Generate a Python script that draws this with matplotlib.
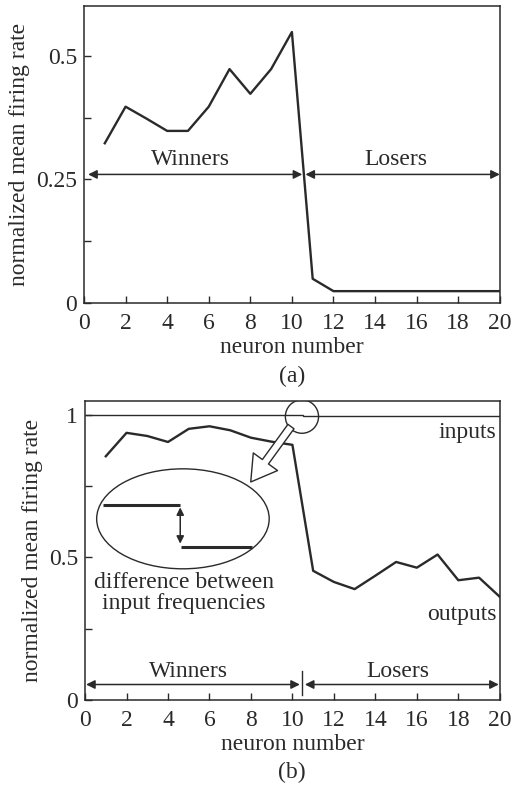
import numpy as np
import matplotlib.pyplot as plt
from matplotlib.patches import Ellipse

plt.rcParams['font.family'] = ['Liberation Serif', 'DejaVu Serif']
plt.rcParams['font.size'] = 17

ink = '#2a2a2a'

# neuron indices
neurons = np.arange(1, 21)

# panel (a): normalized mean firing rate
rate_a = [0.323, 0.397, 0.373, 0.348, 0.348, 0.397, 0.473, 0.423, 0.473, 0.548,
          0.049, 0.024, 0.024, 0.024, 0.024, 0.024, 0.024, 0.024, 0.024, 0.024]

# panel (b): outputs and inputs
outputs_b = [0.854, 0.936, 0.925, 0.904, 0.950, 0.959, 0.945, 0.919, 0.905, 0.894,
             0.453, 0.414, 0.389, 0.436, 0.484, 0.464, 0.510, 0.420, 0.429, 0.362]
inputs_b = [1.0, 1.0, 1.0, 1.0, 1.0, 1.0, 1.0, 1.0, 1.0, 1.0,
            0.996, 0.996, 0.996, 0.996, 0.996, 0.996, 0.996, 0.996, 0.996, 0.996]

xticks = [0, 2, 4, 6, 8, 10, 12, 14, 16, 18, 20]
yticks_a = [0, 0.125, 0.25, 0.375, 0.5]
ylabels_a = ['0', '', '0.25', '', '0.5']
yticks_b = [0, 0.25, 0.5, 0.75, 1]
ylabels_b = ['0', '', '0.5', '', '1']

fig = plt.figure(figsize=(5.25, 7.85), dpi=100)
ax1 = fig.add_axes([0.160, 0.614, 0.792, 0.378])
ax2 = fig.add_axes([0.162, 0.108, 0.790, 0.381])


def style(ax):
    for side in ['top', 'right', 'left', 'bottom']:
        ax.spines[side].set_color(ink)
        ax.spines[side].set_linewidth(1.1)
    ax.tick_params(direction='in', length=5, width=1, color=ink,
                   labelcolor=ink, pad=5)
    ax.tick_params(axis='x', pad=7)
    ax.set_xlim(0, 20)
    ax.set_xticks(xticks)
    ax.set_xlabel('neuron number', color=ink, labelpad=2)
    ax.set_ylabel('normalized mean firing rate', color=ink, labelpad=4)


def span_arrow(ax, x0, x1, y):
    ax.annotate('', xy=(x1, y), xytext=(x0, y),
                arrowprops=dict(arrowstyle='<|-|>', color=ink, lw=1.1,
                                mutation_scale=13, shrinkA=0, shrinkB=0))


# ---- panel (a)
style(ax1)
ax1.set_ylim(0, 0.6)
ax1.set_yticks(yticks_a)
ax1.set_yticklabels(ylabels_a)
ax1.plot(neurons, rate_a, color=ink, lw=1.7)
span_arrow(ax1, 0.2, 10.5, 0.26)
span_arrow(ax1, 10.65, 20, 0.26)
ax1.text(5.1, 0.29, 'Winners', ha='center', va='center', color=ink)
ax1.text(15.0, 0.29, 'Losers', ha='center', va='center', color=ink)
fig.text(0.556, 1 - 376 / 785, '(a)', ha='center', va='center', color=ink)

# ---- panel (b)
style(ax2)
ax2.set_ylim(0, 1.047)
ax2.set_yticks(yticks_b)
ax2.set_yticklabels(ylabels_b)
edges = np.r_[0, neurons[:-1] + 0.5, 20]
ax2.stairs(inputs_b, edges, color=ink, lw=1.0, baseline=None)
ax2.plot(neurons, outputs_b, color=ink, lw=1.7)
ax2.text(18.45, 0.938, 'inputs', ha='center', va='center', color=ink)
ax2.text(18.15, 0.30, 'outputs', ha='center', va='center', color=ink)

# zoom circle and magnified inset
ax2.add_patch(Ellipse((10.46, 0.993), 1.6, 0.117, fill=False, ec=ink, lw=1.0))
ax2.add_patch(Ellipse((4.72, 0.635), 8.32, 0.35, fill=False, ec=ink, lw=1.0))
ax2.plot([0.85, 4.58], [0.685, 0.685], color=ink, lw=2.2, solid_capstyle='butt')
ax2.plot([4.61, 8.03], [0.536, 0.536], color=ink, lw=2.2, solid_capstyle='butt')
ax2.annotate('', xy=(4.59, 0.548), xytext=(4.59, 0.675),
             arrowprops=dict(arrowstyle='<|-|>', color=ink, lw=1.1,
                             mutation_scale=11, shrinkA=0, shrinkB=0))
ax2.annotate('', xy=(7.99, 0.764), xytext=(9.93, 0.958),
             arrowprops=dict(arrowstyle='simple,head_length=1.0,head_width=1.2,tail_width=0.3',
                             fc='white', ec=ink, lw=1.0, mutation_scale=18,
                             shrinkA=0, shrinkB=0))
ax2.text(4.77, 0.375, 'difference between\ninput frequencies', ha='center',
         va='center', color=ink, linespacing=1.0)

span_arrow(ax2, 0.05, 10.36, 0.055)
span_arrow(ax2, 10.6, 19.95, 0.055)
ax2.plot([10.47, 10.47], [0.017, 0.101], color=ink, lw=1.0)
ax2.text(4.98, 0.099, 'Winners', ha='center', va='center', color=ink)
ax2.text(15.1, 0.099, 'Losers', ha='center', va='center', color=ink)
fig.text(0.556, 1 - 772 / 785, '(b)', ha='center', va='center', color=ink)

fig.savefig('out.png', dpi=100)
